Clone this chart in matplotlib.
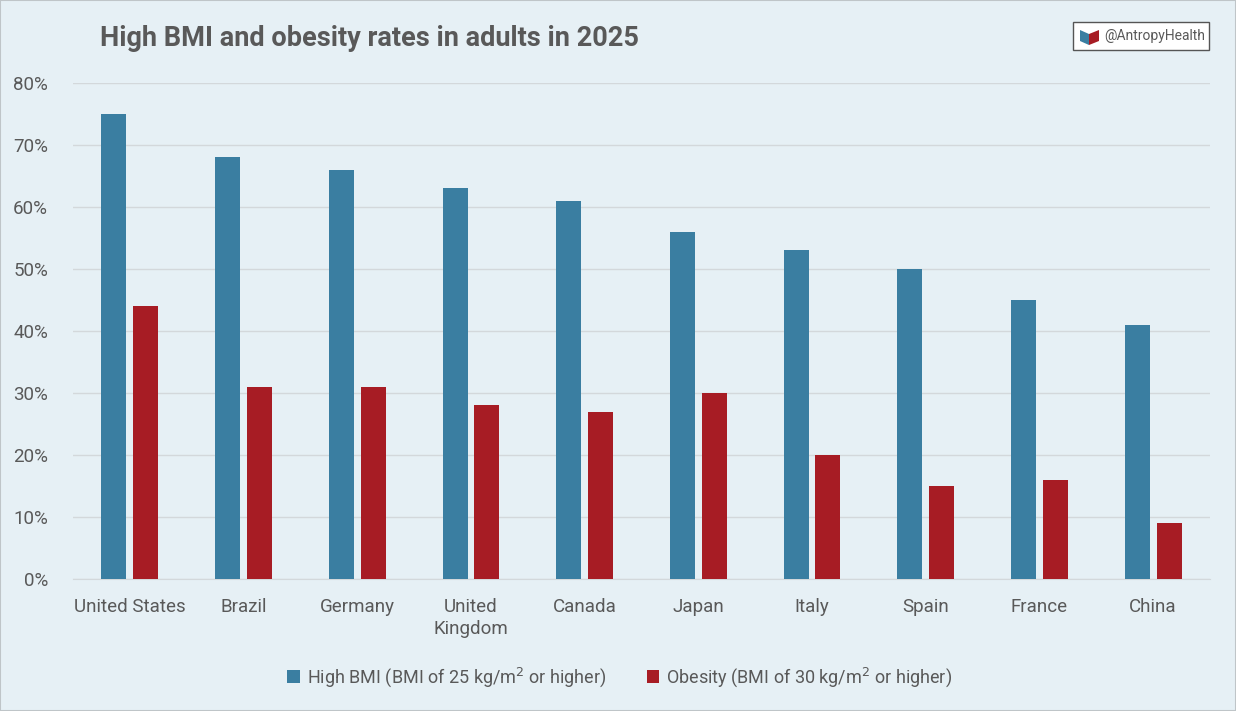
import numpy as np
import matplotlib.pyplot as plt
from matplotlib.patches import Rectangle, Polygon

# Data
countries = ["United States", "Brazil", "Germany", "United\nKingdom", "Canada",
             "Japan", "Italy", "Spain", "France", "China"]
high_bmi = [75, 68, 66, 63, 61, 56, 53, 50, 45, 41]
obesity = [44, 31, 31, 28, 27, 30, 20, 15, 16, 9]

bg = "#E6F0F5"
blue = "#3A7EA1"
red = "#A71C24"
text_col = "#595959"

plt.rcParams['font.family'] = ['Roboto', 'DejaVu Sans']

fig = plt.figure(figsize=(12.36, 7.11), dpi=100, facecolor=bg)
ax = fig.add_axes([73 / 1236, 1 - 579 / 711, 1137 / 1236, 496 / 711])
ax.set_facecolor(bg)

x = np.arange(len(countries))
w = 0.22
ax.bar(x - 0.14, high_bmi, w, color=blue, label="High BMI (BMI of 25 kg/m$^2$ or higher)", zorder=3)
ax.bar(x + 0.14, obesity, w, color=red, label="Obesity (BMI of 30 kg/m$^2$ or higher)", zorder=3)

ax.set_xlim(-0.5, len(countries) - 0.5)
ax.set_ylim(0, 80)
ax.set_yticks(range(0, 81, 10))
ax.set_yticklabels([f"{v}%" for v in range(0, 81, 10)])
ax.set_xticks(x)
ax.set_xticklabels(countries, linespacing=1.25)
ax.grid(axis="y", color="#D3D8DB", linewidth=1, zorder=0)
for s in ["top", "right", "left"]:
    ax.spines[s].set_visible(False)
ax.spines["bottom"].set_color("#D3D8DB")
ax.tick_params(axis="both", length=0, labelsize=13.5, colors=text_col)
ax.tick_params(axis="y", pad=18)
ax.tick_params(axis="x", pad=14)

fig.text(100 / 1236, 1 - 38 / 711, "High BMI and obesity rates in adults in 2025",
         fontsize=19.5, fontweight="bold", color=text_col, va="center", ha="left")

# watermark box
box = Rectangle((1073 / 1236, 1 - 50 / 711), 136 / 1236, 28 / 711, transform=fig.transFigure,
                facecolor="white", edgecolor="#555555", linewidth=1)
fig.patches.append(box)
fig.patches.append(Polygon([(1080 / 1236, 1 - 30 / 711), (1089 / 1236, 1 - 34 / 711),
                            (1089 / 1236, 1 - 45 / 711), (1080 / 1236, 1 - 41 / 711)],
                           closed=True, transform=fig.transFigure, facecolor=blue))
fig.patches.append(Polygon([(1089 / 1236, 1 - 34 / 711), (1099 / 1236, 1 - 30 / 711),
                            (1099 / 1236, 1 - 41 / 711), (1089 / 1236, 1 - 45 / 711)],
                           closed=True, transform=fig.transFigure, facecolor=red))
fig.text(1104 / 1236, 1 - 36 / 711, "@AntropyHealth", fontsize=10, color=text_col,
         va="center", ha="left")

fig.legend(loc="center", bbox_to_anchor=(620 / 1236, 1 - 677 / 711), ncol=2,
           frameon=False, fontsize=13, labelcolor=text_col, handlelength=0.7,
           handleheight=0.7, handletextpad=0.4, columnspacing=2.2)

# border
fig.patches.append(Rectangle((0, 0), 1, 1, transform=fig.transFigure, fill=False,
                             edgecolor="#BFC5C8", linewidth=1.5))

fig.savefig("out.png", dpi=100, facecolor=bg)
